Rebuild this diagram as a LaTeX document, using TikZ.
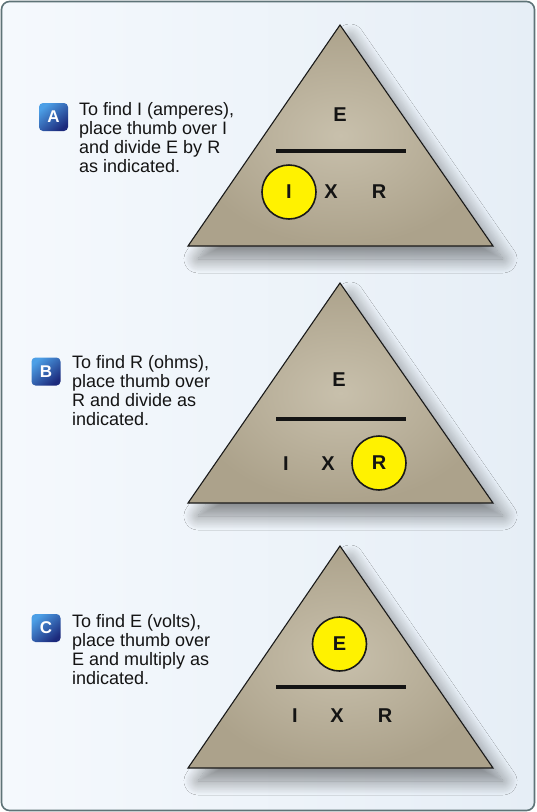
\documentclass[tikz,border=0pt]{standalone}
\usepackage{fontspec}
\setmainfont{Liberation Sans}
\usetikzlibrary{shadows.blur}
\definecolor{bgl}{HTML}{F5F9FD}
\definecolor{bgr}{HTML}{E6EEF6}
\definecolor{frame}{HTML}{5E7377}
\definecolor{tanlight}{HTML}{C8C0AC}
\definecolor{tandark}{HTML}{ACA28B}
\definecolor{thumbyellow}{HTML}{FFF200}
\definecolor{badgetop}{HTML}{4C9FE6}
\definecolor{badgebot}{HTML}{1C2A7C}
\definecolor{ink}{HTML}{141414}
\tikzset{
  tri/.style={draw=black!90, line width=1.1pt, inner color=tanlight, outer color=tandark,
    blur shadow={shadow xshift=10pt, shadow yshift=-13pt, shadow blur radius=14pt, shadow opacity=45, shadow blur steps=20}},
  lett/.style={font=\fontsize{20}{20}\selectfont\bfseries, inner sep=0pt, text=ink},
  thumb/.style={circle, draw=black!90, line width=1.6pt, fill=thumbyellow, minimum size=54pt,
    inner sep=0pt, font=\fontsize{20}{20}\selectfont\bfseries, text=ink},
  bar/.style={line width=3.2pt, draw=ink},
  badge/.style={rectangle, rounded corners=4pt, minimum width=29pt, minimum height=28pt,
    top color=badgetop, bottom color=badgebot, shading angle=40, text=white,
    font=\fontsize{17}{17}\selectfont\bfseries, inner sep=0pt},
  txt/.style={font=\fontsize{18}{19}\selectfont, text=ink, inner sep=0pt, anchor=base west}
}
\begin{document}
\begin{tikzpicture}[x=1pt,y=-1pt]
\useasboundingbox (0,0) rectangle (536,812);
\fill[white] (0,0) rectangle (536,812);
\path[left color=bgl, right color=bgr, draw=frame, line width=1.6pt, rounded corners=8pt]
  (1.5,1.5) rectangle (534.5,810.5);

% ---------- A ----------
\path[tri] (340,25) -- (493,246) -- (188,246) -- cycle;
\draw[bar] (276,151) -- (406,151);
\node[lett] (aE) at (340,115) {E};
\node[thumb] (aI) at (289,192) {I};
\node[lett] (aX) at (331,192) {X};
\node[lett] (aR) at (379,192) {R};
\node[badge] (bA) at (53.5,117) {A};
\node[txt] (tA) at (79,115) {\begin{tabular}[t]{@{}l@{}}To find I (amperes),\\ place thumb over I\\ and divide E by R\\ as indicated.\end{tabular}};

% ---------- B ----------
\path[tri] (340,283) -- (493,503) -- (188,503) -- cycle;
\draw[bar] (276,419) -- (406,419);
\node[lett] (bE) at (339,380) {E};
\node[lett] (bI) at (286,464) {I};
\node[lett] (bX) at (328,464) {X};
\node[thumb] (bR) at (379,463) {R};
\node[badge] (bB) at (46,371.5) {B};
\node[txt] (tB) at (72,368) {\begin{tabular}[t]{@{}l@{}}To find R (ohms),\\ place thumb over\\ R and divide as\\ indicated.\end{tabular}};

% ---------- C ----------
\path[tri] (340,546) -- (493,768) -- (188,768) -- cycle;
\draw[bar] (276,687) -- (406,687);
\node[thumb] (cE) at (339.5,644) {E};
\node[lett] (cI) at (295,716) {I};
\node[lett] (cX) at (337,716) {X};
\node[lett] (cR) at (385,716) {R};
\node[badge] (bC) at (46,628) {C};
\node[txt] (tC) at (72,627) {\begin{tabular}[t]{@{}l@{}}To find E (volts),\\ place thumb over\\ E and multiply as\\ indicated.\end{tabular}};
\end{tikzpicture}
\end{document}
